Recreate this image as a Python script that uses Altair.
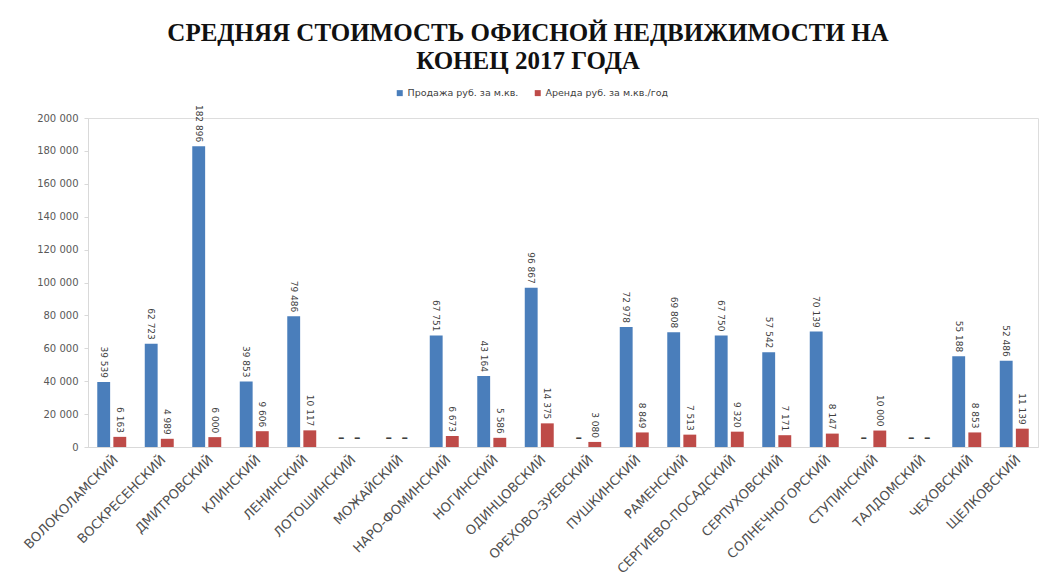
import altair as alt
import pandas as pd

districts = [
    "ВОЛОКОЛАМСКИЙ", "ВОСКРЕСЕНСКИЙ", "ДМИТРОВСКИЙ", "КЛИНСКИЙ", "ЛЕНИНСКИЙ",
    "ЛОТОШИНСКИЙ", "МОЖАЙСКИЙ", "НАРО-ФОМИНСКИЙ", "НОГИНСКИЙ", "ОДИНЦОВСКИЙ",
    "ОРЕХОВО-ЗУЕВСКИЙ", "ПУШКИНСКИЙ", "РАМЕНСКИЙ", "СЕРГИЕВО-ПОСАДСКИЙ",
    "СЕРПУХОВСКИЙ", "СОЛНЕЧНОГОРСКИЙ", "СТУПИНСКИЙ", "ТАЛДОМСКИЙ", "ЧЕХОВСКИЙ",
    "ЩЕЛКОВСКИЙ",
]
sale = [39539, 62723, 182896, 39853, 79486, 0, 0, 67751, 43164, 96867,
        0, 72978, 69808, 67750, 57542, 70139, 0, 0, 55188, 52486]
rent = [6163, 4989, 6000, 9606, 10117, 0, 0, 6673, 5586, 14375,
        3080, 8849, 7513, 9320, 7171, 8147, 10000, 0, 8853, 11139]
series = ["Продажа руб. за м.кв.", "Аренда руб. за м.кв./год"]
y_ticks = [0, 20000, 40000, 60000, 80000, 100000, 120000, 140000, 160000, 180000, 200000]

BLUE = "#4A7EBB"
RED = "#BE4B48"

rows = []
for d, s, r in zip(districts, sale, rent):
    rows.append({"district": d, "series": series[0], "value": s})
    rows.append({"district": d, "series": series[1], "value": r})
df = pd.DataFrame(rows)
df["label"] = df["value"].map(lambda v: f"{v:,}".replace(",", " ") if v > 0 else "–")

x_enc = alt.X(
    "district:N", sort=districts,
    scale=alt.Scale(paddingInner=0.39, paddingOuter=0.195),
    axis=alt.Axis(title=None, labelAngle=-45, labelAlign="right", labelBaseline="top",
                  labelFont="DejaVu Sans", labelFontSize=13, labelColor="#505050",
                  labelPadding=6, ticks=False, domainColor="#d9d9d9", labelOverlap=False),
)
xo_enc = alt.XOffset("series:N", sort=series, scale=alt.Scale(paddingInner=0.2))
y_enc = alt.Y(
    "value:Q", scale=alt.Scale(domain=[0, 200000], nice=False),
    axis=alt.Axis(title=None, values=y_ticks, grid=False, domainColor="#d9d9d9",
                  tickColor="#d9d9d9", tickSize=4, labelFont="DejaVu Sans",
                  labelFontSize=10, labelColor="#595959", labelPadding=6,
                  labelExpr="replace(format(datum.value, ','), ',', ' ')"),
)

base = alt.Chart(df)

bars = base.mark_bar().encode(
    x=x_enc, xOffset=xo_enc, y=y_enc,
    color=alt.Color(
        "series:N", sort=series,
        scale=alt.Scale(domain=series, range=[BLUE, RED]),
        legend=alt.Legend(title=None, orient="none", direction="horizontal",
                          legendX=307, legendY=-30, symbolType="square",
                          symbolSize=36, labelFont="DejaVu Sans", labelFontSize=9.5,
                          labelColor="#404040", columnPadding=14, symbolStrokeWidth=0,
                          labelOffset=3),
    ),
)

labels = base.transform_filter("datum.value > 0").mark_text(
    angle=90, align="right", baseline="middle", dx=-4,
    font="DejaVu Sans", fontSize=9, color="#404040",
).encode(x=x_enc, xOffset=xo_enc, y=y_enc, text="label:N")

zeros = base.transform_filter("datum.value == 0").mark_text(
    align="center", baseline="middle", dy=-9, font="DejaVu Sans",
    fontSize=13, fontWeight="bold", color="#404040",
).encode(x=x_enc, xOffset=xo_enc, y=y_enc, text="label:N")

chart = alt.layer(bars, labels, zeros).properties(
    width=950, height=329,
    autosize=alt.AutoSizeParams(type="none"),
    padding={"left": 88, "top": 118, "right": 2, "bottom": 139},
    title=alt.TitleParams(
        text=["СРЕДНЯЯ СТОИМОСТЬ ОФИСНОЙ НЕДВИЖИМОСТИ НА", "КОНЕЦ 2017 ГОДА"],
        font="Liberation Serif", fontSize=25, fontWeight="bold", color="#111111",
        anchor="middle", dx=-35, offset=14, lineHeight=28,
    ),
).configure_view(stroke=None).configure(background="white")

chart.save("out.html", embed_options={"renderer": "svg", "actions": False})
